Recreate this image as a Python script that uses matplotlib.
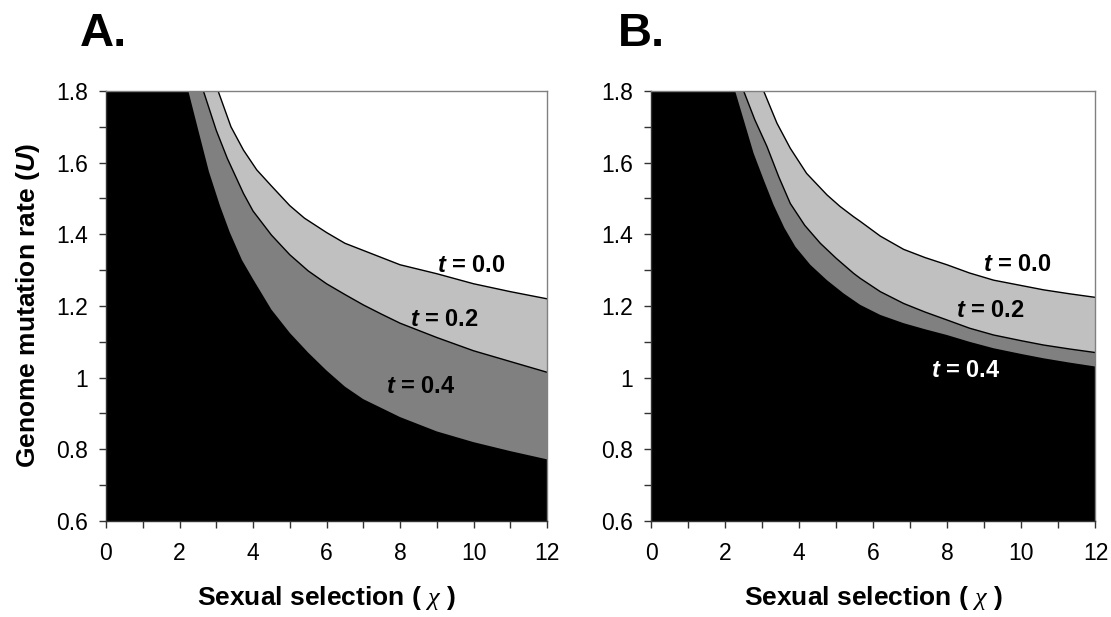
import numpy as np
import matplotlib.pyplot as plt
from matplotlib.ticker import MultipleLocator, FuncFormatter

plt.rcParams['font.family'] = ['Liberation Sans', 'DejaVu Sans']
plt.rcParams['mathtext.fontset'] = 'custom'
plt.rcParams['mathtext.rm'] = 'Liberation Sans'
plt.rcParams['mathtext.it'] = 'Liberation Serif:italic'
plt.rcParams['mathtext.bf'] = 'Liberation Sans:bold'
plt.rcParams['mathtext.bfit'] = 'Liberation Sans:bold:italic'

# -------------------------------
# Boundary curves
# -------------------------------
# Panel A
a_x00 = [3.05, 3.4, 3.74, 4.1, 4.5, 5.0, 5.4, 6.0, 6.5, 7.0, 7.5, 8.0, 9.0, 10.0, 11.0, 12.0]
a_y00 = [1.8, 1.70, 1.635, 1.58, 1.535, 1.48, 1.445, 1.405, 1.375, 1.355, 1.335, 1.315, 1.29, 1.262, 1.24, 1.22]

a_x02 = [2.65, 3.0, 3.3, 3.74, 4.0, 4.5, 5.0, 5.5, 6.0, 6.5, 7.0, 7.5, 8.0, 9.0, 10.0, 11.0, 12.0]
a_y02 = [1.8, 1.69, 1.612, 1.514, 1.465, 1.398, 1.343, 1.298, 1.262, 1.232, 1.203, 1.177, 1.152, 1.112, 1.075, 1.045, 1.015]

a_x04 = [2.24, 2.5, 2.8, 3.1, 3.37, 3.7, 4.0, 4.5, 5.0, 5.5, 6.0, 6.5, 7.0, 7.5, 8.0, 9.0, 10.0, 11.0, 12.0]
a_y04 = [1.8, 1.695, 1.575, 1.48, 1.405, 1.328, 1.275, 1.19, 1.125, 1.07, 1.02, 0.975, 0.94, 0.915, 0.89, 0.85, 0.82, 0.795, 0.772]

# Panel B
b_x00 = [3.04, 3.4, 3.76, 4.2, 4.75, 5.1, 5.47, 5.65, 6.19, 6.82, 7.4, 7.99, 8.6, 9.25, 10.0, 10.6, 11.3, 12.0]
b_y00 = [1.8, 1.71, 1.640, 1.57, 1.510, 1.478, 1.449, 1.436, 1.395, 1.358, 1.335, 1.315, 1.292, 1.272, 1.257, 1.245, 1.234, 1.224]

b_x02 = [2.50, 2.8, 3.13, 3.45, 3.76, 4.15, 4.57, 5.0, 5.47, 5.65, 6.19, 6.82, 7.4, 7.99, 8.6, 9.25, 10.0, 10.6, 11.3, 12.0]
b_y02 = [1.8, 1.72, 1.645, 1.56, 1.486, 1.425, 1.375, 1.333, 1.291, 1.277, 1.240, 1.207, 1.183, 1.161, 1.138, 1.119, 1.103, 1.091, 1.080, 1.070]

b_x04 = [2.27, 2.5, 2.77, 3.05, 3.31, 3.6, 3.9, 4.3, 4.75, 5.2, 5.65, 6.19, 6.82, 7.4, 7.99, 8.6, 9.25, 10.0, 10.6, 11.3, 12.0]
b_y04 = [1.8, 1.72, 1.626, 1.55, 1.482, 1.418, 1.365, 1.315, 1.272, 1.235, 1.203, 1.175, 1.152, 1.135, 1.119, 1.100, 1.082, 1.066, 1.054, 1.042, 1.031]

labels = ['0.0', '0.2', '0.4']
xmin, xmax = 0, 12
ymin, ymax = 0.6, 1.8

light = '#C0C0C0'
mid = '#808080'


def region(xs, ys):
    # polygon under a boundary curve, closed along the left and bottom edges
    px = np.concatenate([[xmin, xmin], xs, [xmax]])
    py = np.concatenate([[ymin, ymax], ys, [ymin]])
    return px, py


def draw_panel(ax, c00, c02, c04, label_pos, colors04):
    ax.fill(*region(*c00), color=light, lw=0)
    ax.fill(*region(*c02), color=mid, lw=0)
    ax.fill(*region(*c04), color='black', lw=0)
    ax.plot(*c00, color='black', lw=1)
    ax.plot(*c02, color='black', lw=1)

    for lab, (lx, ly), col in zip(labels, label_pos, ['black', 'black', colors04]):
        ax.text(lx, ly, r'$\mathbfit{t}$ = ' + lab, ha='center', va='center',
                fontsize=17, fontweight='bold', color=col)

    ax.set_xlim(xmin, xmax)
    ax.set_ylim(ymin, ymax)
    ax.xaxis.set_major_locator(MultipleLocator(2))
    ax.xaxis.set_minor_locator(MultipleLocator(1))
    ax.yaxis.set_major_locator(MultipleLocator(0.2))
    ax.yaxis.set_minor_locator(MultipleLocator(0.1))
    ax.yaxis.set_major_formatter(FuncFormatter(lambda v, p: '%g' % round(v, 1)))
    ax.tick_params(which='both', direction='out', length=5, width=1, color='#333333',
                   labelsize=16.5, top=False, right=False)
    ax.tick_params(axis='x', pad=10)
    ax.tick_params(axis='y', pad=8)
    for s in ['top', 'right']:
        ax.spines[s].set_color('#808080')
        ax.spines[s].set_linewidth(1)
    for s in ['left', 'bottom']:
        ax.spines[s].set_color('#333333')
        ax.spines[s].set_linewidth(1)
    ax.set_xlabel(r'Sexual selection ( $\chi$ )', fontsize=19, fontweight='bold', labelpad=14)


fig = plt.figure(figsize=(11.11, 6.17), dpi=100)
axA = fig.add_axes([0.0954, 0.1556, 0.397, 0.697])
axB = fig.add_axes([0.586, 0.1556, 0.400, 0.697])

draw_panel(axA, (a_x00, a_y00), (a_x02, a_y02), (a_x04, a_y04),
           [(9.93, 1.312), (9.2, 1.161), (8.55, 0.976)], 'black')
draw_panel(axB, (b_x00, b_y00), (b_x02, b_y02), (b_x04, b_y04),
           [(9.9, 1.317), (9.15, 1.187), (8.5, 1.02)], 'white')

axA.set_ylabel(r'Genome mutation rate ($\mathbfit{U}$)', fontsize=19, fontweight='bold', labelpad=10)

fig.text(0.072, 0.98, 'A.', fontsize=34, fontweight='bold', va='top')
fig.text(0.556, 0.98, 'B.', fontsize=34, fontweight='bold', va='top')

plt.savefig('out.png', dpi=100)
